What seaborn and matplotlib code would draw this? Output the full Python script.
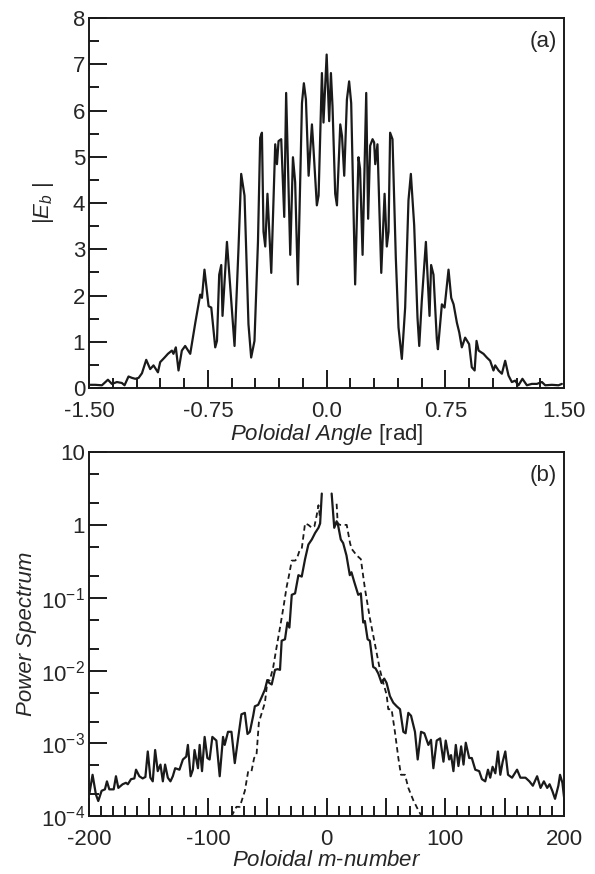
import numpy as np
import pandas as pd
import matplotlib
matplotlib.use("Agg")
import matplotlib.pyplot as plt
import seaborn as sns
from matplotlib.ticker import MultipleLocator, FixedLocator, NullFormatter

# (a) |E_b| vs poloidal angle
theta = [-1.494, -1.462, -1.420, -1.382, -1.357, -1.325, -1.294, -1.277, -1.252, -1.230,
         -1.209, -1.188, -1.167, -1.140, -1.115, -1.094, -1.066, -1.052, -1.024, -1.003,
         -0.978, -0.968, -0.953, -0.936, -0.915, -0.894, -0.862, -0.830, -0.799, -0.788,
         -0.772, -0.746, -0.729, -0.704, -0.693, -0.679, -0.666, -0.658, -0.630, -0.603,
         -0.582, -0.557, -0.540, -0.519, -0.494, -0.477, -0.456, -0.434, -0.420, -0.409,
         -0.399, -0.388, -0.374, -0.350, -0.325, -0.314, -0.304, -0.287, -0.268, -0.256,
         -0.230, -0.213, -0.199, -0.182, -0.156, -0.144, -0.131, -0.114, -0.093, -0.083,
         -0.062, -0.051, -0.030, -0.020, 0.000, 0.016, 0.027, 0.037, 0.054, 0.065,
         0.086, 0.097, 0.111, 0.128, 0.142, 0.155, 0.180, 0.201, 0.211, 0.227,
         0.250, 0.262, 0.275, 0.290, 0.300, 0.307, 0.321, 0.345, 0.366, 0.380,
         0.391, 0.401, 0.416, 0.437, 0.454, 0.475, 0.496, 0.517, 0.532, 0.553,
         0.574, 0.585, 0.601, 0.627, 0.650, 0.660, 0.675, 0.696, 0.703, 0.728,
         0.745, 0.770, 0.787, 0.802, 0.823, 0.838, 0.854, 0.875, 0.900, 0.917,
         0.935, 0.947, 0.960, 0.991, 1.012, 1.033, 1.054, 1.065, 1.086, 1.107,
         1.128, 1.149, 1.170, 1.191, 1.212, 1.237, 1.265, 1.296, 1.328, 1.360,
         1.381, 1.423, 1.465, 1.486]
eb = [0.07, 0.07, 0.06, 0.18, 0.09, 0.13, 0.11, 0.06, 0.25, 0.22,
      0.20, 0.22, 0.32, 0.61, 0.41, 0.49, 0.34, 0.56, 0.66, 0.74,
      0.81, 0.74, 0.88, 0.38, 0.81, 0.91, 0.74, 1.41, 2.02, 1.95,
      2.56, 1.77, 1.74, 0.88, 1.02, 2.45, 2.66, 1.56, 3.16, 1.88,
      0.91, 3.02, 4.63, 4.16, 1.38, 0.66, 1.02, 3.16, 5.41, 5.52,
      3.38, 3.06, 4.20, 2.49, 5.27, 4.84, 5.34, 5.38, 3.70, 6.38,
      2.88, 4.99, 4.45, 2.24, 6.16, 6.59, 6.24, 4.59, 5.70, 5.16,
      3.95, 4.16, 6.81, 5.74, 7.21, 5.77, 6.81, 6.09, 4.20, 3.95,
      5.70, 5.45, 4.59, 6.24, 6.63, 6.16, 2.24, 4.99, 4.74, 2.88,
      6.38, 3.66, 5.24, 5.38, 5.31, 4.84, 5.27, 2.49, 4.20, 3.06,
      3.38, 5.52, 5.38, 2.81, 1.31, 0.63, 1.74, 4.06, 4.63, 3.52,
      1.52, 0.91, 1.88, 3.16, 1.56, 2.66, 2.45, 1.06, 0.84, 1.81,
      1.74, 2.56, 1.95, 1.81, 1.41, 1.20, 0.88, 1.09, 0.95, 0.45,
      0.38, 1.02, 0.81, 0.74, 0.66, 0.59, 0.38, 0.49, 0.38, 0.31,
      0.59, 0.27, 0.13, 0.16, 0.06, 0.20, 0.06, 0.09, 0.09, 0.13,
      0.06, 0.07, 0.06, 0.09]

# (b) power spectrum, log10 values
m_solid = [-200, -197.2, -194.4, -192.4, -189.6, -186.8, -185.1, -183.1, -179.4, -177.5,
           -175.5, -171.9, -169.1, -167.5, -164.8, -162.0, -160.6, -157.8, -155.0, -152.7,
           -150.7, -148.5, -146.5, -144.5, -142.3, -140.0, -138.0, -136.1, -133.8, -131.6,
           -129.6, -127.6, -124.0, -121.1, -118.3, -116.9, -114.6, -112.7, -111.3, -108.4,
           -107.0, -105.0, -102.8, -100.5, -98.6, -96.3, -92.9, -90.1, -87.3, -85.9,
           -83.1, -80.2, -77.4, -74.6, -71.8, -68.9, -66.7, -64.7, -61.9, -60.5,
           -57.7, -54.9, -52.0, -50.0, -48.3, -46.3, -43.5, -41.3, -39.3, -37.9,
           -35.1, -33.1, -31.4, -29.4, -26.6, -23.8, -21.0, -18.2, -15.4, -12.5,
           -9.7, -6.9, -5.5, -4.1,
           4.2, 6.4, 8.4, 9.8, 11.9, 13.9, 16.7, 19.5, 20.9, 23.2,
           26.6, 28.8, 30.8, 32.2, 34.5, 36.4, 39.2, 41.2, 43.5, 46.3,
           48.5, 50.5, 53.3, 56.1, 59.0, 61.8, 64.6, 66.5, 68.8, 71.1,
           74.4, 76.7, 79.5, 82.3, 85.7, 87.9, 89.9, 92.7, 95.6, 98.4,
           100.3, 103.2, 104.8, 106.8, 108.8, 111.0, 113.3, 115.3, 117.2, 120.1,
           122.3, 125.2, 128.5, 130.8, 133.6, 135.9, 137.8, 139.8, 142.1, 144.3,
           146.3, 148.3, 150.5, 152.8, 156.2, 160.4, 163.2, 167.5, 170.8, 173.7,
           177.3, 180.2, 183.0, 185.8, 187.8, 190.1, 192.4, 195.2, 196.6, 198.6,
           200.0]
logp_solid = [-3.70, -3.43, -3.70, -3.79, -3.65, -3.63, -3.52, -3.63, -3.63, -3.45,
              -3.61, -3.56, -3.54, -3.56, -3.49, -3.48, -3.36, -3.45, -3.48, -3.46,
              -3.11, -3.47, -3.52, -3.09, -3.38, -3.29, -3.52, -3.29, -3.47, -3.52,
              -3.45, -3.34, -3.36, -3.22, -3.18, -3.02, -3.45, -3.36, -3.09, -3.34,
              -3.02, -3.38, -2.91, -3.20, -3.22, -2.91, -2.96, -3.45, -2.91, -3.02,
              -2.84, -2.84, -3.27, -2.93, -2.60, -2.58, -2.87, -2.84, -2.62, -2.49,
              -2.47, -2.37, -2.26, -2.13, -2.17, -2.19, -1.99, -1.98, -1.99, -1.59,
              -1.57, -1.34, -1.41, -0.96, -0.94, -0.69, -0.71, -0.47, -0.27, -0.20,
              -0.11, -0.04, 0.02, 0.43,
              0.43, -0.04, 0.05, -0.02, -0.20, -0.25, -0.42, -0.69, -0.65, -0.78,
              -0.96, -0.94, -1.34, -1.32, -1.57, -1.59, -1.95, -1.97, -2.04, -2.17,
              -2.11, -2.17, -2.35, -2.44, -2.49, -2.53, -2.84, -2.86, -2.58, -2.62,
              -2.84, -3.22, -2.84, -2.86, -3.02, -2.95, -3.34, -2.96, -2.93, -3.25,
              -2.96, -3.22, -3.16, -3.38, -3.02, -3.31, -3.04, -3.29, -2.99, -3.20,
              -3.20, -3.36, -3.38, -3.49, -3.52, -3.36, -3.47, -3.32, -3.41, -3.11,
              -3.43, -3.25, -3.11, -3.43, -3.47, -3.36, -3.47, -3.47, -3.52, -3.58,
              -3.45, -3.61, -3.52, -3.61, -3.56, -3.65, -3.76, -3.58, -3.43, -3.54,
              -3.74]

m_dashed = [-80.2, -76.0, -73.2, -68.9, -66.1, -63.3, -61.1, -59.1, -57.1, -55.4,
            -52.0, -49.8, -47.8, -45.0, -42.2, -39.3, -36.5, -33.7, -31.7, -29.4,
            -26.6, -25.2, -23.0, -21.0, -18.2, -15.4, -12.5, -10.3, -8.3, -6.9,
            -5.5,
            8.4, 9.3, 11.3, 16.9, 19.7, 21.1, 25.4, 28.8, 32.2, 36.4,
            40.6, 44.9, 47.7, 50.5, 51.9, 54.7, 57.5, 60.4, 62.6, 66.0,
            68.8, 73.0, 77.3, 80.1]
logp_dashed = [-4.00, -3.87, -3.87, -3.65, -3.38, -3.38, -3.20, -3.16, -2.71, -2.62,
               -2.44, -2.13, -2.13, -1.95, -1.68, -1.41, -1.14, -0.85, -0.69, -0.49,
               -0.49, -0.47, -0.36, -0.33, 0.02, 0.00, -0.04, -0.02, 0.14, 0.27,
               0.09,
               0.29, 0.02, 0.00, 0.00, -0.25, -0.33, -0.42, -0.47, -0.87, -1.28,
               -1.63, -1.99, -2.17, -2.33, -2.53, -2.53, -2.84, -3.20, -3.43, -3.43,
               -3.61, -3.78, -3.92, -4.00]

angle_ticks = [-1.5, -0.75, 0, 0.75, 1.5]
angle_labels = ["-1.50", "-0.75", "0.0", "0.75", "1.50"]
m_ticks = [-200, -150, -100, -50, 0, 50, 100, 150, 200]
m_labels = ["-200", "", "-100", "", "0", "", "100", "", "200"]
decades = [1e-4, 1e-3, 1e-2, 1e-1, 1, 10]
decade_labels = ["$10^{-4}$", "$10^{-3}$", "$10^{-2}$", "$10^{-1}$", "1", "10"]

sns.set_style("ticks")
plt.rcParams["font.family"] = ["Liberation Sans", "DejaVu Sans"]
plt.rcParams["mathtext.fontset"] = "custom"
plt.rcParams["mathtext.rm"] = "Liberation Sans"
plt.rcParams["mathtext.it"] = "Liberation Sans:italic"
plt.rcParams["font.size"] = 16

ink = "#1a1a1a"
fs = 16
fig = plt.figure(figsize=(5.95, 8.74), dpi=100)
ax1 = fig.add_axes([0.150, 0.5560, 0.798, 0.4234])
ax2 = fig.add_axes([0.150, 0.0660, 0.798, 0.4168])

spec = pd.DataFrame({"m": m_solid, "p": np.power(10.0, logp_solid)})
spec_d = pd.DataFrame({"m": m_dashed, "p": np.power(10.0, logp_dashed)})

sns.lineplot(x=theta, y=eb, ax=ax1, color=ink, lw=1.6,
             sort=False, estimator=None)

# the spectrum has a gap around m = 0, so draw each side on its own
for part in (spec[spec.m < 0], spec[spec.m > 0]):
    sns.lineplot(data=part, x="m", y="p", ax=ax2, color=ink, lw=1.6,
                 sort=False, estimator=None)
for part in (spec_d[spec_d.m < 0], spec_d[spec_d.m > 0]):
    sns.lineplot(data=part, x="m", y="p", ax=ax2, color=ink, lw=1.3,
                 sort=False, estimator=None, linestyle=(0, (3, 2)))

for ax in (ax1, ax2):
    for s in ax.spines.values():
        s.set_linewidth(1.4)
        s.set_color(ink)
        s.set_visible(True)
    ax.tick_params(which="major", direction="in", length=13, width=1.4,
                   labelsize=fs, color=ink)
    ax.tick_params(which="minor", direction="in", length=7, width=1.4,
                   color=ink)
    ax.tick_params(axis="x", which="major", pad=9)
    ax.tick_params(axis="y", which="major", pad=3)

ax1.set_xlim(-1.5, 1.5)
ax1.set_ylim(0, 8)
ax1.set_xticks(angle_ticks)
ax1.set_xticklabels(angle_labels)
ax1.xaxis.set_minor_locator(MultipleLocator(0.15))
ax1.yaxis.set_major_locator(MultipleLocator(1))
ax1.yaxis.set_minor_locator(MultipleLocator(0.5))
ax1.set_xlabel(r"$\it{Poloidal\ Angle}$ [rad]", fontsize=fs, labelpad=0)
ax1.set_ylabel(r"|$E_b$ |", fontsize=fs, labelpad=12)
ax1.text(0.985, 0.965, "(a)", transform=ax1.transAxes, ha="right", va="top",
         fontsize=fs)

ax2.set_yscale("log")
ax2.set_xlim(-200, 200)
ax2.set_ylim(1e-4, 10)
ax2.set_xticks(m_ticks)
ax2.set_xticklabels(m_labels)
ax2.xaxis.set_minor_locator(MultipleLocator(10))
ax2.yaxis.set_major_locator(FixedLocator(decades))
ax2.set_yticklabels(decade_labels)
ax2.yaxis.set_minor_locator(FixedLocator(
    [k * d for d in decades[:-1] for k in (2, 5)]))
ax2.yaxis.set_minor_formatter(NullFormatter())
ax2.set_xlabel(r"$\it{Poloidal\ m}$-$\it{number}$", fontsize=fs, labelpad=0)
ax2.set_ylabel("Power Spectrum", fontsize=fs, style="italic", labelpad=3)
ax2.text(0.985, 0.965, "(b)", transform=ax2.transAxes, ha="right", va="top",
         fontsize=fs)

fig.savefig("out.png", dpi=100)
